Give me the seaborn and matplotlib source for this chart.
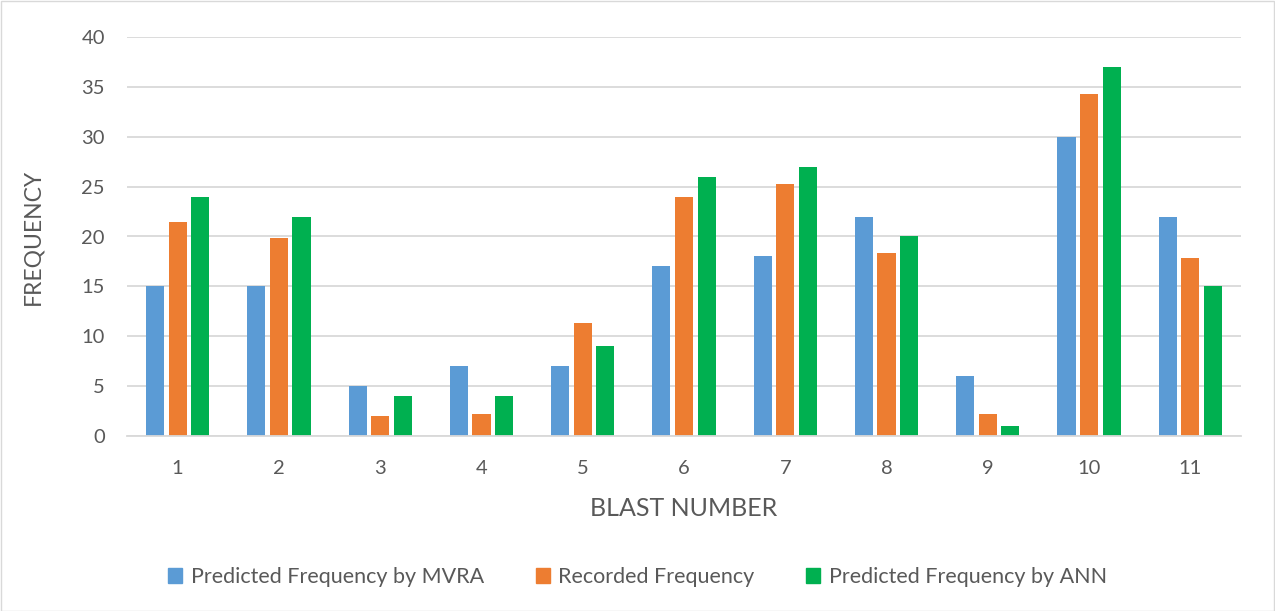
import matplotlib
matplotlib.use("Agg")
import matplotlib.pyplot as plt
import seaborn as sns
import pandas as pd
from matplotlib.patches import Rectangle

blasts = ["1", "2", "3", "4", "5", "6", "7", "8", "9", "10", "11"]
mvra = [15, 15, 5, 7, 7, 17, 18, 22, 6, 30, 22]
recorded = [21.5, 19.8, 2.0, 2.2, 11.3, 24, 25.3, 18.3, 2.2, 34.3, 17.8]
ann = [24, 22, 4, 4, 9, 26, 27, 20, 1, 37, 15]
series_names = ["Predicted Frequency by MVRA", "Recorded Frequency", "Predicted Frequency by ANN"]
colors = ["#5B9BD5", "#ED7D31", "#00B050"]

df = pd.DataFrame({
    "blast": blasts * 3,
    "value": mvra + recorded + ann,
    "series": [series_names[0]] * 11 + [series_names[1]] * 11 + [series_names[2]] * 11,
})

sns.set_theme(style="white")
plt.rcParams["font.family"] = ["Lato", "DejaVu Sans"]
text_color = "#595959"

fig = plt.figure(figsize=(12.75, 6.11), dpi=100)
ax = fig.add_axes([127 / 1275, 1 - 436 / 611, (1241 - 127) / 1275, (436 - 37) / 611])

sns.barplot(data=df, x="blast", y="value", hue="series", palette=colors,
            width=0.67, gap=0.2, ax=ax, order=blasts, hue_order=series_names,
            saturation=1, linewidth=0, errorbar=None)

ax.set_ylim(0, 40)
ax.set_yticks(range(0, 41, 5))
ax.set_xlim(-0.5, 10.5)
ax.grid(axis="y", color="#D9D9D9", linewidth=1.3)
ax.set_axisbelow(True)
for s in ["top", "right", "left"]:
    ax.spines[s].set_visible(False)
ax.spines["bottom"].set_color("#D9D9D9")
ax.spines["bottom"].set_linewidth(1.3)
ax.tick_params(axis="both", length=0, labelsize=14.5, colors=text_color)
ax.tick_params(axis="y", pad=16)
ax.tick_params(axis="x", pad=17)
ax.set_xlabel("BLAST NUMBER", fontsize=18, color=text_color, labelpad=15)
ax.set_ylabel("FREQUENCY", fontsize=16.5, color=text_color, labelpad=27)

ax.legend_.remove()
handles = [Rectangle((0, 0), 1, 1, color=c) for c in colors]
fig.legend(handles, series_names, loc="center", bbox_to_anchor=(0.5, 1 - 577 / 611),
           ncol=3, frameon=False, fontsize=15.5, labelcolor=text_color,
           handlelength=0.65, handleheight=0.65, handletextpad=0.4, columnspacing=2.4)

fig.patches.append(Rectangle((0.5 / 1275, 0.5 / 611), 1 - 1.5 / 1275, 1 - 1.5 / 611,
                             transform=fig.transFigure, fill=False, edgecolor="#D9D9D9",
                             linewidth=1))

fig.savefig("out.png", dpi=100, facecolor="white")
